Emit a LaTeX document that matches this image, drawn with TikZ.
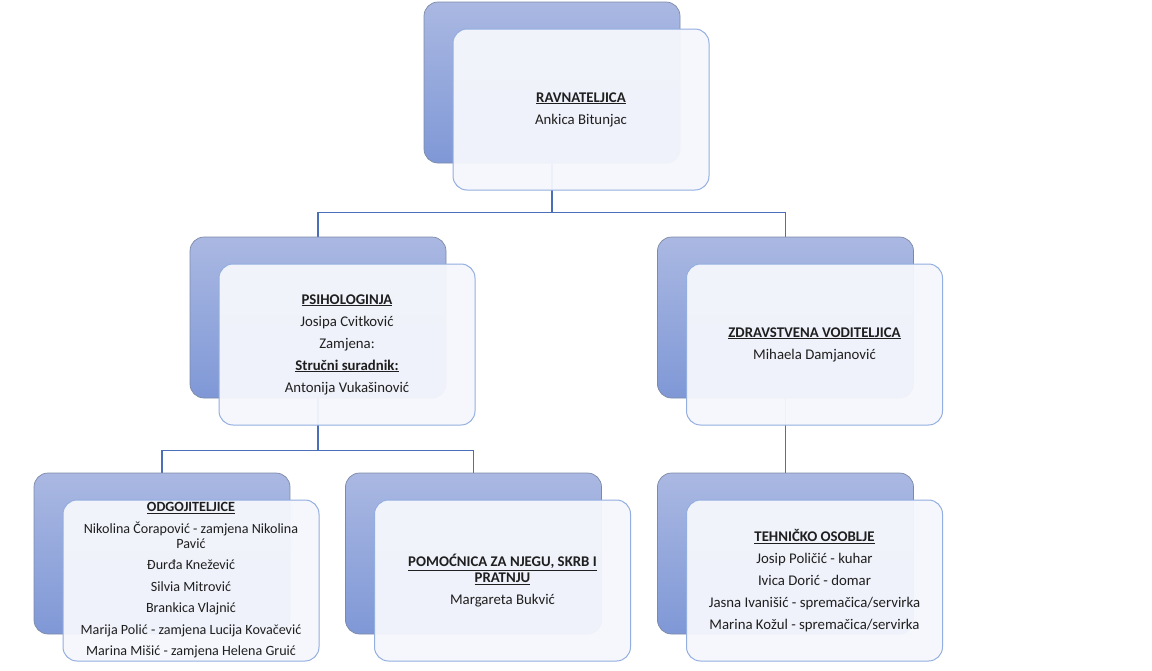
\documentclass[tikz,border=0pt]{standalone}
\usepackage{fontspec}
\setmainfont{Carlito}
\usetikzlibrary{backgrounds}
\definecolor{bluetop}{HTML}{AAB8E2}
\definecolor{bluebot}{HTML}{7F98D6}
\definecolor{bordgray}{HTML}{7D8AA6}
\definecolor{whiteedge}{HTML}{93AEE0}
\definecolor{whitefill}{HTML}{F5F7FC}
\definecolor{connblue}{HTML}{4A6EB8}
\newcommand\hd[1]{\textbf{\underline{#1}}}
\newcommand\boxfont{\fontsize{14.8pt}{16pt}\selectfont}
\newcommand\smallboxfont{\fontsize{14.1pt}{15pt}\selectfont}
\tikzset{
 bluebox/.style={rectangle, rounded corners=14pt, minimum width=256pt, minimum height=161pt, inner sep=0pt, draw=bordgray, line width=0.7pt, top color=bluetop, bottom color=bluebot},
 whitebox/.style={rectangle, rounded corners=14pt, minimum width=256pt, minimum height=161pt, inner sep=2pt, draw=whiteedge, line width=1pt, fill=whitefill, fill opacity=0.95, text opacity=1, align=center, font=\boxfont, text=black!88},
 conn/.style={draw=connblue, line width=1.4pt},
}
\begin{document}
\begin{tikzpicture}[x=1pt,y=-1pt]
\useasboundingbox (0,0) rectangle (1152,670);
% back (blue) boxes
\node[bluebox] (rB)   at (552,82.5) {};
\node[bluebox] (psB)  at (318,317.5) {};
\node[bluebox] (zB)   at (785.5,317.5) {};
\node[bluebox] (odB)  at (162,553.5) {};
\node[bluebox] (pomB) at (473.5,553.5) {};
\node[bluebox] (tehB) at (785.5,553.5) {};
% front (white) boxes
\node[whitebox] (rW) at (581,109.5) {\hd{RAVNATELJICA}\\[6pt]Ankica Bitunjac};
\node[whitebox] (psW) at (347,344.5) {\hd{PSIHOLOGINJA}\\[6pt]Josipa Cvitković\\[6pt]Zamjena:\\[6pt]\hd{Stručni suradnik:}\\[6pt]Antonija Vukašinović};
\node[whitebox] (zW) at (814.5,344.5) {\hd{ZDRAVSTVENA VODITELJICA}\\[6pt]Mihaela Damjanović};
\node[whitebox, font=\smallboxfont] (odW) at (191,580.5) {\hd{ODGOJITELJICE}\\[6.5pt]Nikolina Čorapović - zamjena Nikolina\\Pavić\\[6.5pt]Đurđa Knežević\\[6.5pt]Silvia Mitrović\\[6.5pt]Brankica Vlajnić\\[6.5pt]Marija Polić - zamjena Lucija Kovačević\\[6.5pt]Marina Mišić - zamjena Helena Gruić};
\node[whitebox] (pomW) at (502.5,580.5) {\hd{POMOĆNICA ZA NJEGU, SKRB I}\\\hd{PRATNJU}\\[6pt]Margareta Bukvić};
\node[whitebox] (tehW) at (814.5,580.5) {\hd{TEHNIČKO OSOBLJE}\\[6pt]Josip Poličić - kuhar\\[6pt]Ivica Dorić - domar\\[6pt]Jasna Ivanišić - spremačica/servirka\\[6pt]Marina Kožul - spremačica/servirka};
% connectors
\begin{pgfonlayer}{background}
\draw[conn] (rB.south) -- ++(0,49) -| (psB.north);
\draw[conn] (rB.south) -- ++(0,49) -| (zB.north);
\draw[conn] (psB.south) -- ++(0,52) -| (odB.north);
\draw[conn] (psB.south) -- ++(0,52) -| (pomB.north);
\draw[conn] (zB.south) -- (tehB.north);
\end{pgfonlayer}
\end{tikzpicture}
\end{document}
